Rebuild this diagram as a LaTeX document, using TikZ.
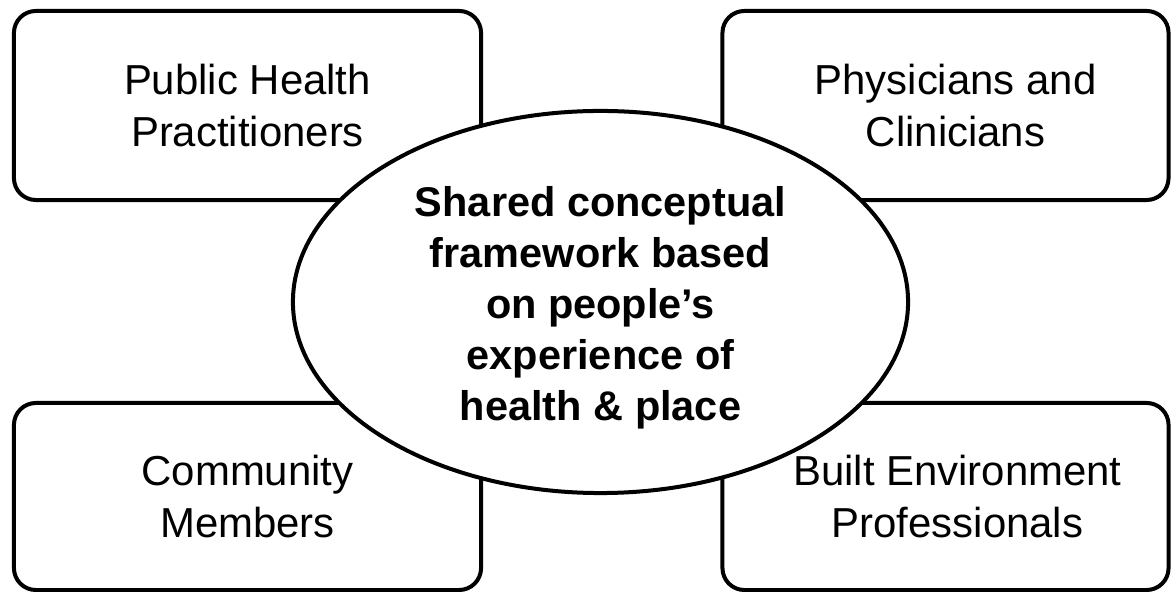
\documentclass[tikz,border=0pt]{standalone}
\usepackage{fontspec}
\setmainfont{Liberation Sans}
\usetikzlibrary{shapes.geometric}
\begin{document}
\begin{tikzpicture}[x=0.025cm,y=0.025cm,
	grouptext/.style={align=center,inner sep=0pt,font=\fontsize{29.8pt}{36.5pt}\selectfont},
	group/.style={draw,line width=2.85pt,rounded corners=15.6pt,minimum width=11.675cm,minimum height=4.725cm,grouptext},
	shared/.style={ellipse,draw,fill=white,line width=2.85pt,minimum width=15.375cm,minimum height=9.55cm,inner sep=0pt}]
		\useasboundingbox (0,0) rectangle (1172,592);
		\node (pub) [group] at (247.5,486.5) {Public Health\\Practitioners};
		\node (phy) [group,minimum width=11.15cm] at (945.5,486.5) {};
		\node (phytxt) [grouptext] at ([xshift=0.25cm]phy.center) {Physicians and\\Clinicians};
		\node (com) [group,minimum height=4.675cm] at (247.5,95.5) {Community\\Members};
		\node (blt) [group,minimum width=11.15cm,minimum height=4.675cm] at (945.5,95.5) {};
		\node (blttxt) [grouptext] at ([xshift=0.3cm]blt.center) {Built Environment\\Professionals};
		\node (frm) [shared] at (600.5,290) {};
		\node (frmtxt) [align=center,inner sep=0pt,font=\fontsize{29.5pt}{36.3pt}\selectfont\bfseries] at ([yshift=-0.15cm]frm.center) {Shared conceptual\\framework based\\on people’s\\experience of\\health \& place};
	\end{tikzpicture}
\end{document}
